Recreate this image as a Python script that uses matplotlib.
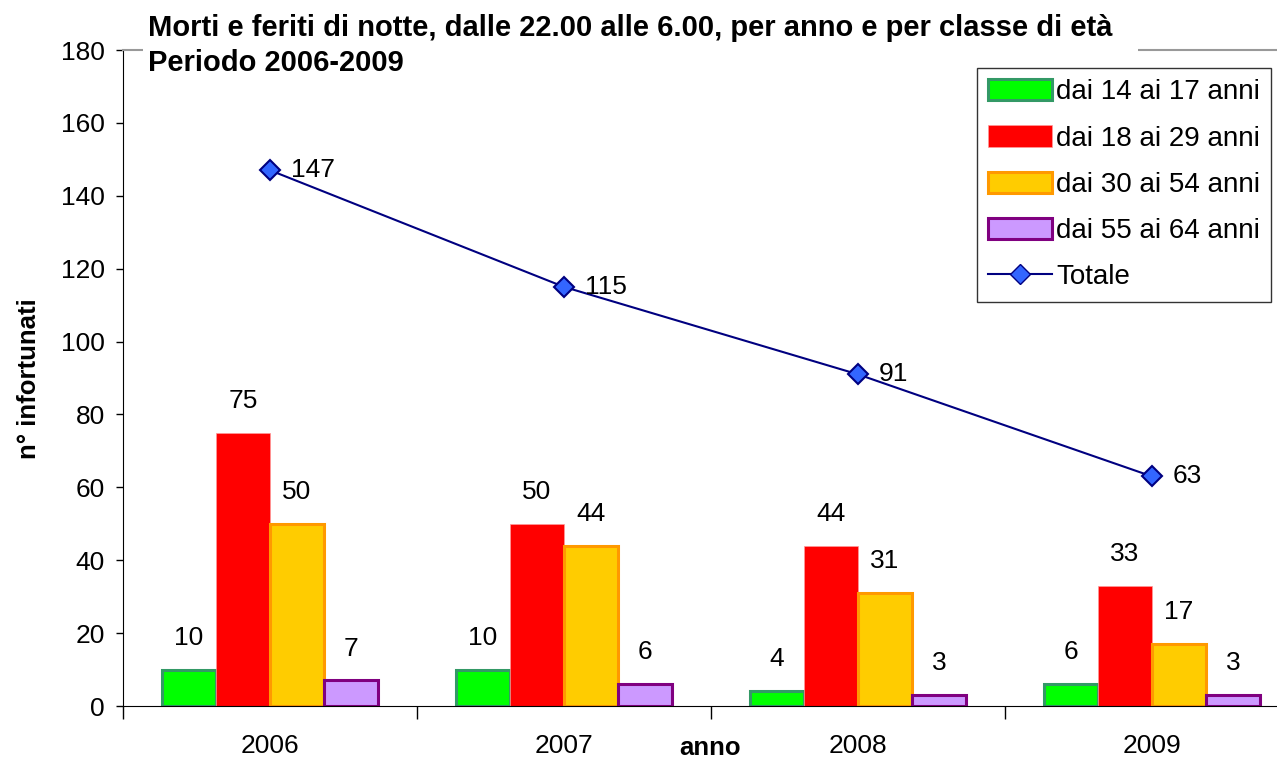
import matplotlib
matplotlib.use("Agg")
import matplotlib.pyplot as plt
import numpy as np
from matplotlib.patches import Patch
from matplotlib.lines import Line2D

plt.rcParams['font.family'] = ['Liberation Sans', 'DejaVu Sans']

years = ["2006", "2007", "2008", "2009"]
series_names = ["dai 14 ai 17 anni", "dai 18 ai 29 anni", "dai 30 ai 54 anni", "dai 55 ai 64 anni"]
v_14_17 = [10, 10, 4, 6]
v_18_29 = [75, 50, 44, 33]
v_30_54 = [50, 44, 31, 17]
v_55_64 = [7, 6, 3, 3]
totale = [147, 115, 91, 63]

faces = ["#00FF00", "#FF0000", "#FFCC00", "#CC99FF"]
edges = ["#339966", "#FF9999", "#FF9900", "#800080"]
lws = [2.2, 0.5, 2.2, 2.2]

W, H = 1277, 758
fig = plt.figure(figsize=(W/100, H/100), dpi=100)
ax = fig.add_axes([123/W, 1-706/H, 1176/W, 656/H])

FS = 19
x = np.arange(len(years))
w = 0.184
offs = [-1.5*w, -0.5*w, 0.5*w, 1.5*w]
allvals = [v_14_17, v_18_29, v_30_54, v_55_64]
for vals, o, fc, ec, lw in zip(allvals, offs, faces, edges, lws):
    ax.bar(x+o, vals, width=w, facecolor=fc, edgecolor=ec, linewidth=lw, zorder=2)
    for xi, v in zip(x+o, vals):
        ax.annotate(str(v), (xi, v), xytext=(0, 23), textcoords='offset points',
                    ha='center', va='center', fontsize=FS)

ax.plot(x, totale, color="#000080", linewidth=1.5, marker='D', markersize=10,
        markerfacecolor="#3366FF", markeredgecolor="#000080", markeredgewidth=1.5, zorder=3)
for xi, v in zip(x, totale):
    ax.annotate(str(v), (xi, v), xytext=(15, 0), textcoords='offset points',
                ha='left', va='center', fontsize=FS)

ax.set_xlim(-0.5, 3.5)
ax.set_ylim(0, 180)
ax.set_yticks(np.arange(0, 181, 20))
ax.tick_params(axis='y', labelsize=FS, length=5, width=1, direction='out', pad=8)
ax.set_xticks(np.arange(-0.5, 4, 1))
ax.set_xticklabels([])
ax.set_xticks(x, minor=True)
ax.set_xticklabels(years, minor=True, fontsize=FS)
ax.tick_params(axis='x', which='major', length=9, width=1, direction='out')
ax.tick_params(axis='x', which='minor', length=0, pad=20)

ax.spines['right'].set_visible(False)
ax.spines['top'].set_color('#999999')
ax.spines['top'].set_linewidth(1.5)
ax.spines['left'].set_color('black')
ax.spines['bottom'].set_color('black')

fig.text(29/W, 1-379/H, "n° infortunati", rotation=90, ha='center', va='center',
         fontsize=18.5, fontweight='bold')
fig.text(710/W, 1-748/H, "anno", ha='center', va='center', fontsize=18.5, fontweight='bold')

fig.patches.append(plt.Rectangle((143/W, 1-78/H), (1138-143)/W, 78/H,
                                 transform=fig.transFigure, facecolor='white', edgecolor='none', zorder=5))
fig.text(148/W, 1-28/H, "Morti e feriti di notte, dalle 22.00 alle 6.00, per anno e per classe di età",
         ha='left', va='center', fontsize=21, fontweight='bold', zorder=6)
fig.text(148/W, 1-63/H, "Periodo 2006-2009", ha='left', va='center', fontsize=21,
         fontweight='bold', zorder=6)

handles = [Patch(facecolor=fc, edgecolor=ec, linewidth=lw) for fc, ec, lw in zip(faces, edges, lws)]
handles.append(Line2D([0], [0], color="#000080", linewidth=1.5, marker='D', markersize=10,
                      markerfacecolor="#3366FF", markeredgecolor="#000080"))
leg = fig.legend(handles, series_names + ["Totale"], loc='upper left',
                 bbox_to_anchor=(977/W, 1-68/H), fontsize=20, frameon=True, fancybox=False,
                 edgecolor='black', borderaxespad=0, labelspacing=0.72, handlelength=2.3,
                 handleheight=0.8, handletextpad=0.15, borderpad=0.4)
leg.get_frame().set_linewidth(1)

fig.savefig("out.png", dpi=100)
